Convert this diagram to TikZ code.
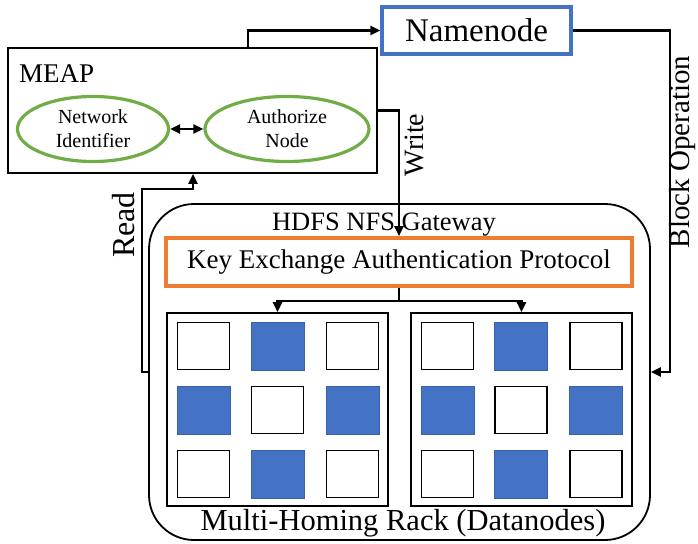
\documentclass[tikz,border=0pt]{standalone}
\usepackage{fontspec}
\setmainfont{Liberation Serif}
\usetikzlibrary{arrows.meta,shapes.geometric,calc}
\definecolor{egreen}{HTML}{70AD47}
\definecolor{eblue}{HTML}{4472C4}
\definecolor{eorange}{HTML}{ED7D31}
\newcommand{\fs}[1]{\fontsize{#1}{#1}\selectfont}
\tikzset{
  conn/.style={line width=2.2pt, draw=black},
  arr/.style={conn, -{Triangle[length=10pt,width=9pt]}},
  darr/.style={conn, {Triangle[length=10pt,width=9pt]}-{Triangle[length=10pt,width=9pt]}},
  ell/.style={ellipse, draw=egreen, line width=3.2pt, inner sep=0pt, align=center, font=\fontsize{20}{24}\selectfont},
  plainbox/.style={rectangle, draw=black, line width=1.8pt, inner sep=0pt},
  wsq/.style={rectangle, draw=black, line width=1.9pt, fill=white, minimum width=52pt, minimum height=47pt, inner sep=0pt},
  bsq/.style={rectangle, draw=eblue!85!black, line width=0.6pt, fill=eblue, minimum width=53pt, minimum height=48pt, inner sep=0pt},
  vlabel/.style={rotate=90, inner sep=0pt},
}
\begin{document}
\begin{tikzpicture}[x=1pt,y=-1pt]
\useasboundingbox (0,0) rectangle (698,543);
% MEAP
\node[plainbox, minimum width=369pt, minimum height=125pt] (meap) at (192.5,110.5) {};
\node[anchor=base west, inner sep=0pt, font=\fs{27}] (meaplbl) at (19,82) {MEAP};
\node[ell, minimum width=151pt, minimum height=65pt] (netid) at (93,129) {Network\\Identifier};
\node[ell, minimum width=164pt, minimum height=65pt] (auth) at (287,129) {Authorize\\Node};
\draw[darr] (netid) -- (auth);
% Namenode
\node[rectangle, draw=eblue, line width=3.2pt, minimum width=189pt, minimum height=47pt, inner sep=0pt, font=\fs{33}] (nn) at (476.5,30.5) {Namenode};
% HDFS gateway
\node[rectangle, draw=black, line width=1.8pt, rounded corners=45pt, minimum width=501pt, minimum height=336pt, inner sep=0pt] (hdfs) at (399.5,372) {};
\node[anchor=base, inner sep=0pt, font=\fs{26.5}] (hdfslbl) at (384,230) {HDFS NFS Gateway};
\node[rectangle, draw=eorange, line width=3.6pt, minimum width=466pt, minimum height=48pt, inner sep=0pt, font=\fs{27}] (key) at (399,262) {Key Exchange Authentication Protocol};
\node[anchor=base, inner sep=0pt, font=\fs{30.5}] (multi) at (403,530) {Multi-Homing Rack (Datanodes)};
% racks
\node[plainbox, minimum width=221pt, minimum height=193pt] (rackL) at (277.5,409.5) {};
\node[plainbox, minimum width=221pt, minimum height=193pt] (rackR) at (521.5,409.5) {};
% squares left rack
\node[wsq] (l11) at (203.5,346) {};
\node[bsq] (l12) at (277.5,346) {};
\node[wsq] (l13) at (352.5,346) {};
\node[bsq] (l21) at (203.5,410) {};
\node[wsq] (l22) at (277.5,410) {};
\node[bsq] (l23) at (352.5,410) {};
\node[wsq] (l31) at (203.5,474) {};
\node[bsq] (l32) at (277.5,474) {};
\node[wsq] (l33) at (352.5,474) {};
% squares right rack
\node[wsq] (r11) at (447.5,346) {};
\node[bsq] (r12) at (521,346) {};
\node[wsq] (r13) at (596,346) {};
\node[bsq] (r21) at (447.5,410) {};
\node[wsq] (r22) at (521,410) {};
\node[bsq] (r23) at (596,410) {};
\node[wsq] (r31) at (447.5,474) {};
\node[bsq] (r32) at (521,474) {};
\node[wsq] (r33) at (596,474) {};
% connectors
\draw[arr] ([xshift=55.5pt]meap.north) |- (nn.west);
\draw[arr] (nn.east) -- ++(97,0) |- (hdfs.east);
\draw[arr] (meap.east) -| (key.north);
\draw[arr] (hdfs.west) -- ++(-6,0) |- ($(meap.south)+(0.5,15)$) -- ([xshift=0.5pt]meap.south);
\draw[conn] (key.south) -- ++(0,13) coordinate (split);
\draw[arr] (split) -| (rackL.north);
\draw[arr] (split) -| (rackR.north);
% labels
\node[vlabel, font=\fs{32}] (readlbl) at (124,225) {Read};
\node[vlabel, font=\fs{28}] (writelbl) at (414,145) {Write};
\node[vlabel, font=\fs{29}] (blocklbl) at (683,152) {Block Operation};
\end{tikzpicture}
\end{document}
